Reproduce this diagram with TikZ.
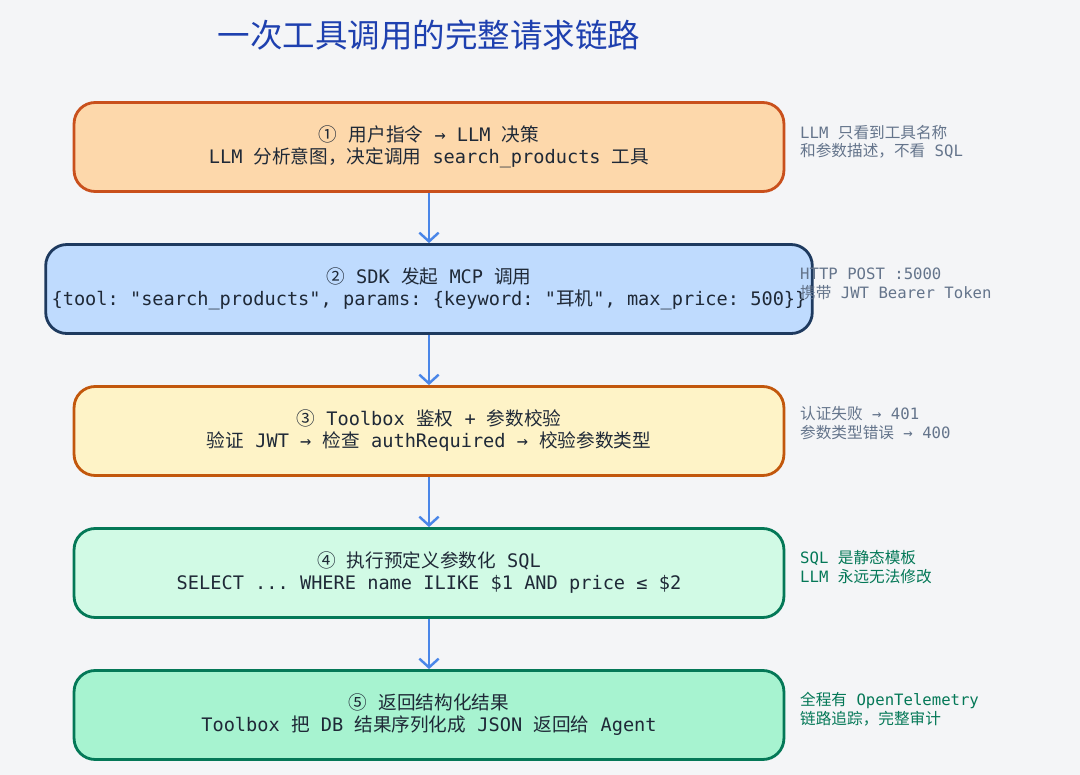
\documentclass[tikz,border=0pt]{standalone}
\usepackage{fontspec}
\setmainfont{Noto Sans}
\setmonofont{DejaVu Sans Mono}
\newfontfamily\cjk{Noto Sans CJK SC}
\newcommand*\zh[1]{{\cjk #1}}
\usetikzlibrary{positioning,arrows.meta}
\definecolor{bgc}{HTML}{F4F5F7}
\definecolor{titlec}{HTML}{1E40AF}
\definecolor{arrowc}{HTML}{4A86E8}
\definecolor{greyc}{HTML}{64748B}
\definecolor{greenc}{HTML}{047857}
\definecolor{textc}{HTML}{1F2937}
\definecolor{edgeA}{HTML}{C9501C}
\definecolor{fillA}{HTML}{FDD8AB}
\definecolor{edgeB}{HTML}{1E3A5F}
\definecolor{fillB}{HTML}{BFDBFE}
\definecolor{edgeC}{HTML}{C2570C}
\definecolor{fillC}{HTML}{FEF3C7}
\definecolor{fillD}{HTML}{D1FAE5}
\definecolor{fillE}{HTML}{A7F3D0}
\tikzset{
  step/.style={draw=#1,line width=1.6pt,rounded corners=12pt,minimum width=14.2cm,
    minimum height=1.78cm,align=center,font=\ttfamily\fontsize{10.6}{12.5}\selectfont,text=textc},
  note/.style={anchor=west,align=left,font=\ttfamily\fontsize{8.9}{10.5}\selectfont,text=#1},
  flow/.style={-{Straight Barb[length=5pt,width=11pt]},draw=arrowc,line width=1.4pt},
}
\begin{document}
\begin{tikzpicture}[x=0.02cm,y=-0.02cm]
\fill[bgc] (0,0) rectangle (1080,775);
\node[font=\cjk\fontsize{18.5}{22}\selectfont,text=titlec] (title) at (429,35) {一次工具调用的完整请求链路};

\node[step=edgeA,fill=fillA] (s1) at (429,147)
  {\zh{①} \zh{用户指令} → LLM \zh{决策}\\LLM \zh{分析意图，决定调用} search\_products \zh{工具}};
\node[step=edgeB,fill=fillB] (s2) at (429,289)
  {\zh{②} SDK \zh{发起} MCP \zh{调用}\\\{tool: "search\_products", params: \{keyword: "\zh{耳机}", max\_price: 500\}\}};
\node[step=edgeC,fill=fillC] (s3) at (429,431)
  {\zh{③} Toolbox \zh{鉴权} + \zh{参数校验}\\\zh{验证} JWT → \zh{检查} authRequired → \zh{校验参数类型}};
\node[step=greenc,fill=fillD] (s4) at (429,573)
  {\zh{④} \zh{执行预定义参数化} SQL\\SELECT ... WHERE name ILIKE \$1 AND price ≤ \$2};
\node[step=greenc,fill=fillE] (s5) at (429,715)
  {\zh{⑤} \zh{返回结构化结果}\\Toolbox \zh{把} DB \zh{结果序列化成} JSON \zh{返回给} Agent};

\foreach \a/\b in {s1/s2,s2/s3,s3/s4,s4/s5}
  \draw[flow] (\a) -- (\b);

\node[note=greyc] (n1) at (794,142) {LLM \zh{只看到工具名称}\\\zh{和参数描述，不看} SQL};
\node[note=greyc] (n2) at (794,284) {HTTP POST :5000\\\zh{携带} JWT Bearer Token};
\node[note=greyc] (n3) at (794,423) {\zh{认证失败} → 401\\\zh{参数类型错误} → 400};
\node[note=greenc] (n4) at (794,567) {SQL \zh{是静态模板}\\LLM \zh{永远无法修改}};
\node[note=greenc] (n5) at (794,709) {\zh{全程有} OpenTelemetry\\\zh{链路追踪，完整审计}};
\end{tikzpicture}
\end{document}
